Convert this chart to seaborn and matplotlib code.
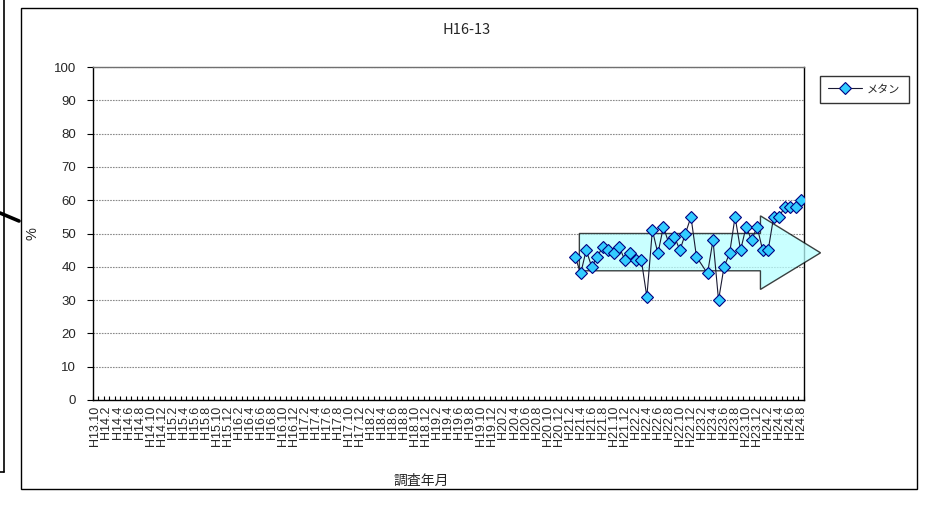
import numpy as np
import pandas as pd
import matplotlib
matplotlib.use("Agg")
import matplotlib.pyplot as plt
from matplotlib.patches import Polygon, Rectangle
from matplotlib.lines import Line2D
import seaborn as sns

# category axis: H13.10, then monthly H14.1 ... H24.8
months = ["H13.10"] + [f"H{y}.{m}" for y in range(14, 25) for m in range(1, 13)]
months = months[:months.index("H24.8") + 1]

# methane (%) measured monthly from H21.3, one missing month
first_month = "H21.3"
methane = [43, 38, 45, 40, 43, 46, 45, 44, 46, 42, 44, 42, 42, 31, 51, 44,
           52, 47, 49, 45, 50, 55, 43, None, 38, 48, 30, 40, 44, 55, 45, 52,
           48, 52, 45, 45, 55, 55, 58, 58, 58, 60]

title = "H16-13"
series_name = "メタン"
x_label = "調査年月"
y_label = "%"

W, H = 934, 513
JP = ["Noto Sans CJK JP", "DejaVu Sans"]
LAT = ["Liberation Sans", "DejaVu Sans"]

sns.set_theme(style="white")
plt.rcParams["font.family"] = LAT


def px(x, y):
    """pixel position -> figure fraction"""
    return x / W, 1 - y / H


start = months.index(first_month)
df = pd.DataFrame({
    "month": months[start:start + len(methane)],
    "pos": np.arange(start, start + len(methane)),
    "pct": methane,
}).dropna()

fig = plt.figure(figsize=(W / 100, H / 100), dpi=100)
x0, y1 = px(92.7, 67)
x1, y0 = px(804, 400)
ax = fig.add_axes([x0, y0, x1 - x0, y1 - y0])

sns.lineplot(
    data=df, x="pos", y="pct", ax=ax, sort=False, estimator=None,
    color="#1a1a33", linewidth=0.8, marker="D", markersize=6.3,
    markerfacecolor="#33CCFF", markeredgecolor="#000080", markeredgewidth=0.8,
    label=series_name, legend=False, zorder=4,
)

# trend arrow (annotation shape), drawn behind the series
arrow = Polygon(
    [(87.76, 50.0), (120.6, 50.0), (120.6, 55.3), (131.5, 44.2),
     (120.6, 33.2), (120.6, 38.8), (87.76, 38.8)],
    closed=True, facecolor="#B8FFFF", alpha=0.75, edgecolor="black",
    linewidth=1.0, clip_on=False, zorder=3,
)
ax.add_patch(arrow)

ax.set_xlim(-0.5, len(months) - 0.5)
ax.set_ylim(0, 100)
ax.set_yticks(range(0, 101, 10))
ax.set_xticks(range(0, len(months), 2))
ax.set_xticklabels(months[::2], rotation=90, fontsize=9)
ax.set_xticks(np.arange(-0.5, len(months)), minor=True)
ax.tick_params(axis="x", which="major", length=0, pad=4)
ax.tick_params(axis="x", which="minor", length=3, direction="in",
               width=0.8, color="black", bottom=True)
ax.tick_params(axis="y", labelsize=9.5, length=4, width=0.8, color="black",
               direction="out", left=True, pad=8)

ax.yaxis.grid(True, linestyle=(0, (1.5, 1)), linewidth=0.8, color="#8a8a8a")
ax.xaxis.grid(False)
ax.set_axisbelow(True)
for s in ["left", "bottom", "right"]:
    ax.spines[s].set_color("black")
    ax.spines[s].set_linewidth(1.0)
ax.spines["top"].set_color("#707070")
ax.spines["top"].set_linewidth(1.0)

ax.set_xlabel("")
ax.set_ylabel(y_label, fontsize=10.5, family=LAT)
ax.yaxis.set_label_coords((39 - 92.7) / (804 - 92.7), 0.5)

fig.text(*px(421, 481), x_label, ha="center", va="center", fontsize=10, family=JP)
fig.text(*px(467, 30), title, ha="center", va="center", fontsize=10.5, family=JP)

line = ax.lines[0]
leg = fig.legend(
    [line], [series_name], loc="upper left", bbox_to_anchor=px(820, 76),
    frameon=True, fancybox=False, borderpad=0.75, borderaxespad=0,
    handlelength=3.0, handletextpad=0.5, prop={"family": JP, "size": 8},
)
leg.get_frame().set_edgecolor("black")
leg.get_frame().set_linewidth(1.0)

# chart border and clipped shapes on the left edge
bx, by = px(21, 489)
fig.add_artist(Rectangle((bx, by), (917 - 21) / W, (489 - 8) / H, fill=False,
                         edgecolor="black", linewidth=1.0,
                         transform=fig.transFigure))
for (xa, ya), (xb, yb), lw in [((4, 0), (4, 472), 1.2),
                                 ((0, 472), (4, 472), 1.2),
                                 ((0, 213), (19, 221), 2.6)]:
    (fa, ga), (fb, gb) = px(xa, ya), px(xb, yb)
    fig.add_artist(Line2D([fa, fb], [ga, gb], color="black", linewidth=lw,
                          transform=fig.transFigure))

fig.savefig("out.png", dpi=100)
